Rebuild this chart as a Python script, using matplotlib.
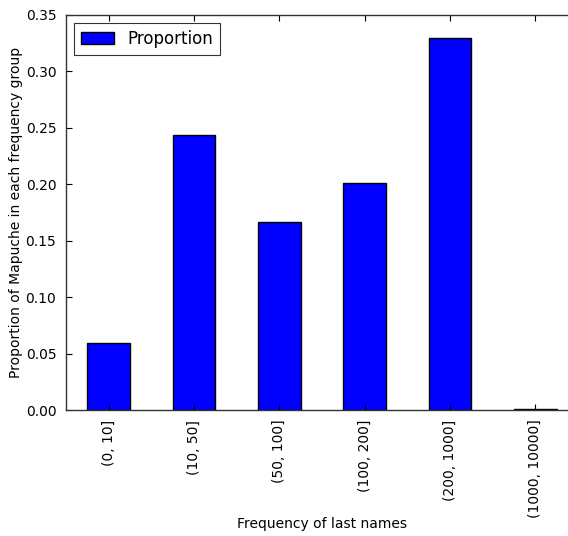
import matplotlib
matplotlib.use("Agg")
import matplotlib.pyplot as plt

categories = ["(0, 10]", "(10, 50]", "(50, 100]", "(100, 200]", "(200, 1000]", "(1000, 10000]"]
proportion = [0.0591, 0.2434, 0.1663, 0.2014, 0.3293, 0.0006]
y_ticks = [0.00, 0.05, 0.10, 0.15, 0.20, 0.25, 0.30, 0.35]

plt.rcParams["font.family"] = "DejaVu Sans"

fig = plt.figure(figsize=(5.68, 5.36), dpi=100)
# the original was cropped on the right, so the axes run past the figure edge
ax = fig.add_axes([66 / 568, 126 / 536, 512 / 568, 395 / 536])

x = list(range(len(categories)))
ax.bar(x, proportion, width=0.5, color="#0000ff", edgecolor="black",
       linewidth=1.0, label="Proportion")

ax.set_xlim(-0.5, len(categories) - 0.5)
ax.set_ylim(0, 0.35)
ax.set_yticks(y_ticks)
ax.set_yticklabels([f"{v:.2f}" for v in y_ticks])
ax.set_xticks(x)
ax.set_xticklabels(categories, rotation=90)

ax.tick_params(direction="in", top=True, right=True, length=4, width=0.8,
               labelsize=10, pad=7)
for spine in ax.spines.values():
    spine.set_color("#333333")
    spine.set_linewidth(1.0)

ax.set_xlabel("Frequency of last names", fontsize=10)
ax.set_ylabel("Proportion of Mapuche in each frequency group", fontsize=10)
ax.xaxis.set_label_coords((322 - 66) / 512, -0.27)
ax.yaxis.set_label_coords(-0.084, 0.5)

leg = ax.legend(loc="upper left", fontsize=12, fancybox=False, frameon=True,
                borderaxespad=0.5, handlelength=2.0)
leg.get_frame().set_edgecolor("black")
leg.get_frame().set_linewidth(0.8)

fig.savefig("out.png", dpi=100, facecolor="white")
